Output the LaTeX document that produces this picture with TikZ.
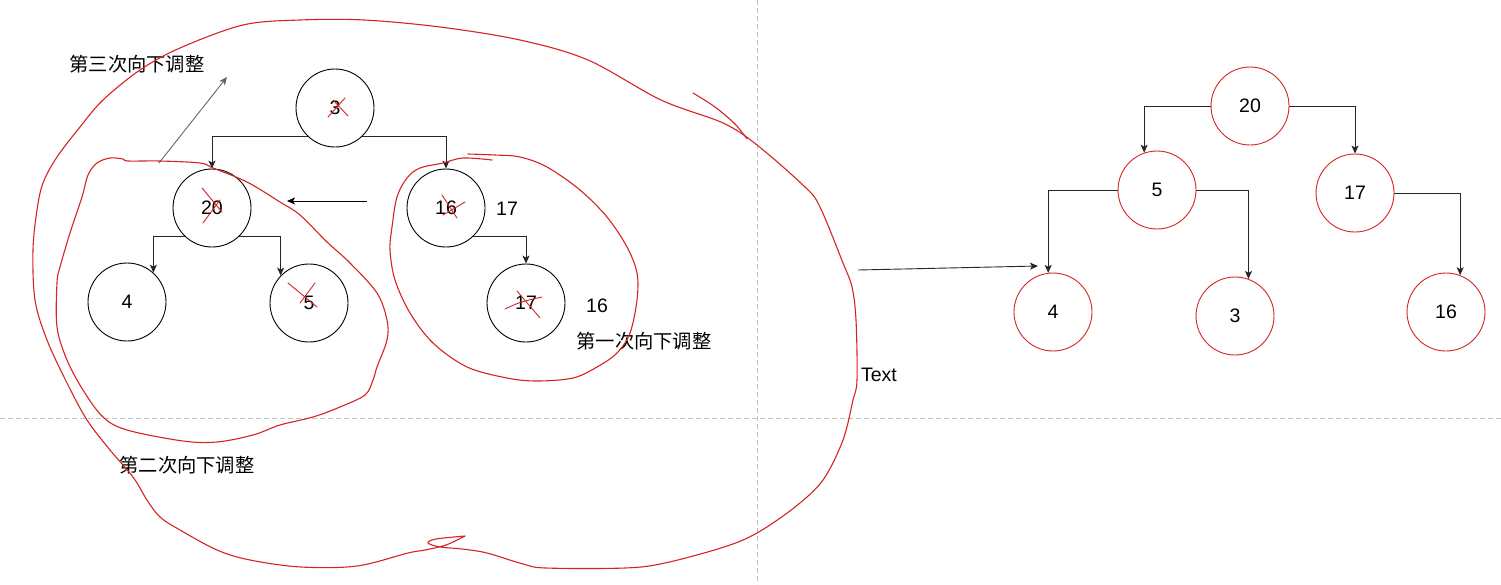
\documentclass[tikz,border=0pt]{standalone}
\usepackage{fontspec}
\setmainfont{Liberation Sans}
\newfontfamily\cjk{Noto Sans CJK SC}
\usetikzlibrary{arrows.meta}
\definecolor{hred}{RGB}{214,36,36}
\definecolor{dashg}{RGB}{195,195,195}
\begin{document}
\begin{tikzpicture}[x=1pt,y=-1pt,
 tnode/.style={circle, draw=black, line width=0.9pt, minimum size=78pt, inner sep=0pt, font=\fontsize{19.5}{22}\selectfont},
 rnode/.style={tnode, draw=hred},
 conn/.style={draw=black!85, line width=0.9pt, -{Stealth[length=8pt,width=7pt,inset=2pt]}},
 hand/.style={draw=hred, line width=1.1pt, line cap=round, line join=round},
 lbl/.style={font=\fontsize{19.5}{22}\selectfont, inner sep=0pt},
 cjklbl/.style={font=\cjk\fontsize{19.3}{22}\selectfont, inner sep=0pt},
 guide/.style={draw=dashg, line width=1pt, dash pattern=on 5pt off 3pt}]
\useasboundingbox (0,0) rectangle (1501,584);
\fill[white] (0,0) rectangle (1501,584);

% guides
\coordinate (gv1) at (757,0); \coordinate (gv2) at (757,584);
\coordinate (gh1) at (0,418); \coordinate (gh2) at (1501,418);
\draw[guide] (gv1) -- (gv2);
\draw[guide] (gh1) -- (gh2);

% left tree
\node[tnode] (n3) at (335,108) {3};
\node[tnode] (n20) at (212,208) {20};
\node[tnode] (n4) at (127,302) {4};
\node[tnode] (n5) at (309,303) {5};
\node[tnode] (n16) at (446,208) {16};
\node[tnode] (n17) at (526,303) {17};

\draw[conn] (n3.226) -| (n20.north);
\draw[conn] (n3.314) -| (n16.north);
\draw[conn] (n20.226) -| (n4.48);
\draw[conn] (n20.314) -| (n5.136);
\draw[conn] (n16.314) -| (n17.north);

% right tree
\node[rnode] (r20) at (1250,106) {20};
\node[rnode] (r5) at (1157,190) {5};
\node[rnode] (r17) at (1355,193) {17};
\node[rnode] (r4) at (1053,312) {4};
\node[rnode] (r3) at (1235,316) {3};
\node[rnode] (r16) at (1446,312) {16};

\draw[conn] (r20.west) -| (r5.109);
\draw[conn] (r20.east) -| (r17.north);
\draw[conn] (r5.west) -| (r4.97);
\draw[conn] (r5.east) -| (r3.70);
\draw[conn] (r17.east) -| (r16.69);

% free arrows
\coordinate (a1s) at (367,201); \coordinate (a1e) at (287,201);
\draw[conn, draw=black] (a1s) -- (a1e);
\coordinate (a2s) at (159,163); \coordinate (a2e) at (227,77);
\draw[conn, draw=black!60] (a2s) -- (a2e);
\coordinate (a3s) at (858,270); \coordinate (a3e) at (1038,266);
\draw[conn] (a3s) -- (a3e);

% labels
\node[cjklbl] (t3) at (137,64) {第三次向下调整};
\node[cjklbl] (t2) at (187,465) {第二次向下调整};
\node[cjklbl] (t1) at (644,341) {第一次向下调整};
\node[lbl] (l17) at (507,209) {17};
\node[lbl] (l16) at (597,306) {16};
\node[lbl] (ltext) at (879,375) {Text};

% red crosses
\draw[hand, line width=0.9pt] (328,117) -- (345,98) (333,100) -- (348,116);
\draw[hand, line width=0.9pt] (202,188) -- (222,212) (203,223) -- (220,200);
\draw[hand, line width=0.9pt] (288,283) -- (317,307) (300,303) -- (315,283);
\draw[hand, line width=0.9pt] (442,195) -- (457,218) (443,215) -- (465,202);
\draw[hand, line width=0.9pt] (505,309) .. controls (520,302) .. (542,297) (517,291) -- (540,318);

% freehand loops
\draw[hand] plot[smooth, tension=0.55] coordinates {(465,536) (446,545) (425,550) (408,553) (357,566) (301,567) (250,560) (217,550) (180,530) (160,517) (147,500) (133,477) (110,450) (87,420) (67,383) (47,340) (35,300) (33,250) (37,210) (43,183) (57,157) (80,127) (103,100) (140,70) (180,48) (243,25) (300,20) (364,20) (440,27) (520,40) (588,60) (661,100) (723,123) (757,145) (805,187) (820,207) (843,263) (852,287) (856,320) (857,380) (853,400) (843,440) (823,480) (795,507) (757,533) (724,547) (665,563) (625,568) (546,568) (523,564) (487,553) (462,549) (440,547) (428,543) (436,539) (465,536)};
\draw[hand] plot[smooth, tension=0.55] coordinates {(693,93) (715,107) (735,124) (747,139)};
\draw[hand] plot[smooth cycle, tension=0.55] coordinates {(110,158) (123,159) (128,161) (160,161) (200,163) (213,168) (247,182) (280,202) (300,215) (327,242) (350,263) (377,293) (387,320) (387,340) (377,367) (373,380) (365,395) (340,407) (313,417) (280,425) (253,435) (217,442) (183,441) (127,430) (103,417) (83,390) (67,360) (57,327) (57,283) (60,267) (70,233) (82,197) (88,175) (97,163)};
\draw[hand] plot[smooth, tension=0.55] coordinates {(492,160) (463,158) (443,163) (420,168) (407,178) (397,197) (392,227) (390,250) (395,280) (410,313) (433,343) (467,367) (507,378) (537,381) (573,378) (597,367) (617,353) (630,333) (637,300) (637,273) (627,247) (607,217) (580,190) (547,167) (520,157) (495,155) (468,154)};
\end{tikzpicture}
\end{document}
